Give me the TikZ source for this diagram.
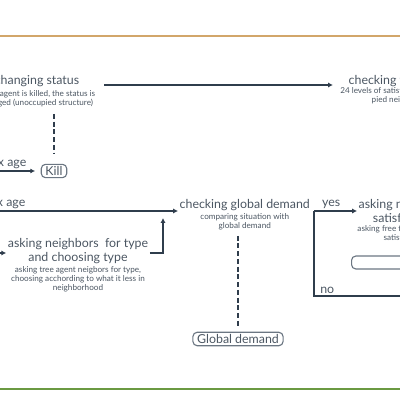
\documentclass[tikz,border=0pt]{standalone}
\usepackage{fontspec}
\setmainfont{Lato}
\usepackage{tikz}
\usetikzlibrary{positioning,arrows.meta}
\definecolor{flowline}{HTML}{2F3D4C}
\definecolor{flowtext}{HTML}{4B5662}
\definecolor{boxgray}{HTML}{6B7682}
\definecolor{topbar}{HTML}{D2A66A}
\definecolor{bottombar}{HTML}{6B9A42}

\begin{document}
\begin{tikzpicture}[
    x=0.025cm, y=-0.025cm,
    title/.style={align=center, inner sep=1pt, text=flowtext, font=\fontsize{8.8}{10.5}\selectfont},
    sub/.style={align=center, inner sep=0pt, text=flowtext, font=\fontsize{5.8}{6.4}\selectfont},
    lbl/.style={inner sep=1pt, text=flowtext, font=\fontsize{8.8}{10}\selectfont},
    tag/.style={draw=boxgray, rounded corners=3pt, line width=0.8pt, inner xsep=3pt, inner ysep=1.5pt, text=flowtext, font=\fontsize{8.8}{10}\selectfont},
    arrow/.style={-{Latex[length=3.4pt, width=3.6pt]}, line width=0.9pt, draw=flowline},
    link/.style={line width=0.9pt, draw=flowline},
    dashlink/.style={line width=0.9pt, draw=flowline, dash pattern=on 3.5pt off 2pt}
  ]
    \useasboundingbox (0,0) rectangle (400,400);
    \clip (0,0) rectangle (400,400);
    \draw[line width=0.8pt, topbar] (-10,36) -- (410,36);
    \draw[line width=1pt, bottombar] (-10,389) -- (410,389);

    \node[title] (status) at (37,81) {changing status};
    \node[sub, below=1pt of status] (statussub) {If the agent is killed, the status is\\changed (unoccupied structure)};
    \node[title, anchor=west] (fcheck) at (347,81) {checking free neighbors};
    \node[sub, anchor=north west] (fchecksub) at (340,87) {24 levels of satisfaction of occu-\\pied neighbors};
    \node[tag] (kill) at (54,171) {Kill};
    \node[lbl, anchor=south east] (agelbl1) at (28,170) {max age};

    \node[title, anchor=west] (demand) at (178,205) {checking global demand};
    \node[sub, below=0.5pt of demand] (demandsub) {comparing situation with\\global demand};
    \node[lbl, anchor=south east] (agelbl2) at (27,210) {max age};
    \node[title] (ask) at (78,251) {asking neighbors\ \ for type\\and choosing type};
    \node[sub, below=0.5pt of ask] (asksub) {asking tree agent neigbors for type,\\choosing acchording to what it less in\\neighborhood};
    \node[tag] (gdem) at (238,339) {Global demand};
    \node[title, anchor=west] (sat) at (357,211) {asking neighbors\\satisfaction};
    \node[sub, below=0.5pt of sat] (satsub) {asking free tree agents for\\satisfaction};
    \node[tag, anchor=west, minimum width=80pt, minimum height=9.2pt] (satbox) at (351,262.5) {};

    \coordinate (statusout) at (104,85);
    \coordinate (agein1) at (-10,171);
    \coordinate (agein2) at (-10,211);
    \coordinate (askin) at (-10,253);
    \coordinate (joinup) at (163,218);
    \coordinate (branch) at (314,211);
    \coordinate (noend) at (410,296);

    \draw[arrow, shorten >=10pt] (statusout) -- (statusout -| fcheck.west);
    \draw[dashlink, shorten <=5pt, shorten >=7pt] (statussub.south -| kill) -- (kill);
    \draw[arrow, shorten >=4pt] (agein1) -- (kill);
    \draw[arrow] (agein2) -- (agein2 -| demand.west);
    \draw[arrow] (askin) -- (askin -| ask.west);
    \draw[arrow] (ask.east |- askin) -| (joinup);
    \draw[dashlink, shorten <=4pt, shorten >=4pt] (demandsub.south -| gdem) -- (gdem);
    \draw[arrow] (branch) -- node[lbl, above, pos=0.4] {yes} (branch -| sat.west);
    \draw[link] (branch) |- node[lbl, above right, pos=0.5, xshift=3pt] {no} (noend);
  \end{tikzpicture}
\end{document}
